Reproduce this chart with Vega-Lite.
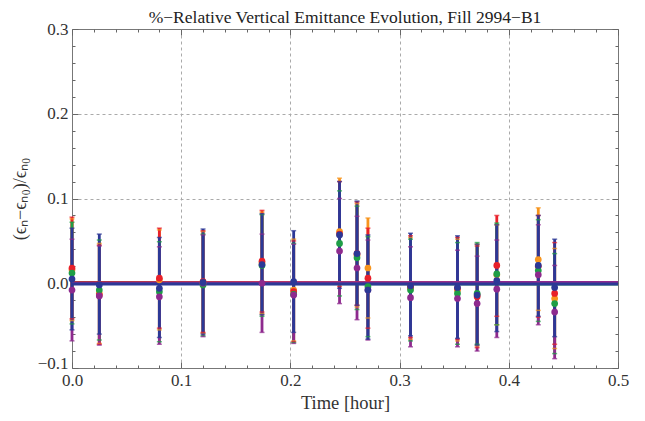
{
  "$schema": "https://vega.github.io/schema/vega-lite/v6.json",
  "autosize": "none",
  "width": 546,
  "height": 339,
  "padding": {"left": 72, "top": 29, "right": 27, "bottom": 53},
  "background": "white",
  "title": {"text": "%−Relative Vertical Emittance Evolution, Fill 2994−B1", "font": "Liberation Serif", "fontSize": 17.5, "fontWeight": "normal", "color": "#222", "anchor": "middle", "offset": -6},
  "config": {
    "view": {"stroke": "#777", "strokeWidth": 1},
    "axis": {"labelFont": "Liberation Serif", "titleFont": "Liberation Serif", "labelColor": "#333", "titleColor": "#333", "domain": false, "tickColor": "#666", "gridDash": [3, 3]}
  },
  "datasets": {
    "pts": [
      {"t": 0.000, "s": "Series 1", "y": 0.016, "lo": -0.044, "hi": 0.076},
      {"t": 0.000, "s": "Series 2", "y": 0.018, "lo": -0.042, "hi": 0.078},
      {"t": 0.000, "s": "Series 3", "y": 0.012, "lo": -0.048, "hi": 0.072},
      {"t": 0.000, "s": "Series 4", "y": -0.008, "lo": -0.068, "hi": 0.052},
      {"t": 0.000, "s": "Series 5", "y": 0.005, "lo": -0.055, "hi": 0.065},
      {"t": 0.025, "s": "Series 1", "y": -0.012, "lo": -0.071, "hi": 0.047},
      {"t": 0.025, "s": "Series 2", "y": -0.014, "lo": -0.072, "hi": 0.045},
      {"t": 0.025, "s": "Series 3", "y": -0.008, "lo": -0.067, "hi": 0.051},
      {"t": 0.025, "s": "Series 4", "y": -0.015, "lo": -0.073, "hi": 0.044},
      {"t": 0.025, "s": "Series 5", "y": -0.002, "lo": -0.060, "hi": 0.058},
      {"t": 0.080, "s": "Series 1", "y": 0.004, "lo": -0.055, "hi": 0.063},
      {"t": 0.080, "s": "Series 2", "y": 0.006, "lo": -0.053, "hi": 0.065},
      {"t": 0.080, "s": "Series 3", "y": -0.010, "lo": -0.069, "hi": 0.049},
      {"t": 0.080, "s": "Series 4", "y": -0.016, "lo": -0.072, "hi": 0.043},
      {"t": 0.080, "s": "Series 5", "y": -0.006, "lo": -0.064, "hi": 0.054},
      {"t": 0.120, "s": "Series 1", "y": 0.001, "lo": -0.059, "hi": 0.061},
      {"t": 0.120, "s": "Series 2", "y": 0.002, "lo": -0.058, "hi": 0.062},
      {"t": 0.120, "s": "Series 3", "y": -0.002, "lo": -0.062, "hi": 0.058},
      {"t": 0.120, "s": "Series 4", "y": 0.000, "lo": -0.063, "hi": 0.057},
      {"t": 0.120, "s": "Series 5", "y": 0.001, "lo": -0.060, "hi": 0.064},
      {"t": 0.174, "s": "Series 1", "y": 0.024, "lo": -0.036, "hi": 0.084},
      {"t": 0.174, "s": "Series 2", "y": 0.026, "lo": -0.034, "hi": 0.086},
      {"t": 0.174, "s": "Series 3", "y": 0.021, "lo": -0.039, "hi": 0.081},
      {"t": 0.174, "s": "Series 4", "y": 0.000, "lo": -0.058, "hi": 0.058},
      {"t": 0.174, "s": "Series 5", "y": 0.022, "lo": -0.037, "hi": 0.082},
      {"t": 0.203, "s": "Series 1", "y": -0.008, "lo": -0.068, "hi": 0.052},
      {"t": 0.203, "s": "Series 2", "y": -0.010, "lo": -0.069, "hi": 0.050},
      {"t": 0.203, "s": "Series 3", "y": -0.013, "lo": -0.070, "hi": 0.047},
      {"t": 0.203, "s": "Series 4", "y": -0.014, "lo": -0.071, "hi": 0.046},
      {"t": 0.203, "s": "Series 5", "y": 0.002, "lo": -0.058, "hi": 0.062},
      {"t": 0.245, "s": "Series 1", "y": 0.061, "lo": -0.002, "hi": 0.124},
      {"t": 0.245, "s": "Series 2", "y": 0.058, "lo": -0.004, "hi": 0.120},
      {"t": 0.245, "s": "Series 3", "y": 0.047, "lo": -0.015, "hi": 0.109},
      {"t": 0.245, "s": "Series 4", "y": 0.038, "lo": -0.024, "hi": 0.100},
      {"t": 0.245, "s": "Series 5", "y": 0.057, "lo": -0.006, "hi": 0.120},
      {"t": 0.261, "s": "Series 1", "y": 0.033, "lo": -0.028, "hi": 0.094},
      {"t": 0.261, "s": "Series 2", "y": 0.035, "lo": -0.026, "hi": 0.096},
      {"t": 0.261, "s": "Series 3", "y": 0.030, "lo": -0.031, "hi": 0.091},
      {"t": 0.261, "s": "Series 4", "y": 0.018, "lo": -0.043, "hi": 0.079},
      {"t": 0.261, "s": "Series 5", "y": 0.035, "lo": -0.026, "hi": 0.097},
      {"t": 0.271, "s": "Series 1", "y": 0.018, "lo": -0.041, "hi": 0.077},
      {"t": 0.271, "s": "Series 2", "y": 0.006, "lo": -0.053, "hi": 0.065},
      {"t": 0.271, "s": "Series 3", "y": -0.004, "lo": -0.063, "hi": 0.055},
      {"t": 0.271, "s": "Series 4", "y": -0.008, "lo": -0.067, "hi": 0.051},
      {"t": 0.271, "s": "Series 5", "y": -0.008, "lo": -0.066, "hi": 0.057},
      {"t": 0.310, "s": "Series 1", "y": -0.006, "lo": -0.066, "hi": 0.054},
      {"t": 0.310, "s": "Series 2", "y": -0.004, "lo": -0.064, "hi": 0.056},
      {"t": 0.310, "s": "Series 3", "y": -0.008, "lo": -0.068, "hi": 0.052},
      {"t": 0.310, "s": "Series 4", "y": -0.017, "lo": -0.075, "hi": 0.043},
      {"t": 0.310, "s": "Series 5", "y": -0.003, "lo": -0.062, "hi": 0.059},
      {"t": 0.353, "s": "Series 1", "y": -0.008, "lo": -0.068, "hi": 0.052},
      {"t": 0.353, "s": "Series 2", "y": -0.006, "lo": -0.066, "hi": 0.054},
      {"t": 0.353, "s": "Series 3", "y": -0.012, "lo": -0.072, "hi": 0.048},
      {"t": 0.353, "s": "Series 4", "y": -0.018, "lo": -0.075, "hi": 0.039},
      {"t": 0.353, "s": "Series 5", "y": -0.005, "lo": -0.065, "hi": 0.056},
      {"t": 0.371, "s": "Series 1", "y": -0.014, "lo": -0.074, "hi": 0.046},
      {"t": 0.371, "s": "Series 2", "y": -0.016, "lo": -0.076, "hi": 0.044},
      {"t": 0.371, "s": "Series 3", "y": -0.012, "lo": -0.072, "hi": 0.048},
      {"t": 0.371, "s": "Series 4", "y": -0.024, "lo": -0.080, "hi": 0.032},
      {"t": 0.371, "s": "Series 5", "y": -0.014, "lo": -0.073, "hi": 0.046},
      {"t": 0.389, "s": "Series 1", "y": 0.010, "lo": -0.049, "hi": 0.069},
      {"t": 0.389, "s": "Series 2", "y": 0.021, "lo": -0.039, "hi": 0.080},
      {"t": 0.389, "s": "Series 3", "y": 0.011, "lo": -0.049, "hi": 0.071},
      {"t": 0.389, "s": "Series 4", "y": -0.007, "lo": -0.064, "hi": 0.051},
      {"t": 0.389, "s": "Series 5", "y": 0.003, "lo": -0.057, "hi": 0.069},
      {"t": 0.427, "s": "Series 1", "y": 0.028, "lo": -0.032, "hi": 0.089},
      {"t": 0.427, "s": "Series 2", "y": 0.020, "lo": -0.040, "hi": 0.080},
      {"t": 0.427, "s": "Series 3", "y": 0.015, "lo": -0.045, "hi": 0.075},
      {"t": 0.427, "s": "Series 4", "y": 0.010, "lo": -0.049, "hi": 0.069},
      {"t": 0.427, "s": "Series 5", "y": 0.021, "lo": -0.039, "hi": 0.080},
      {"t": 0.442, "s": "Series 1", "y": -0.018, "lo": -0.077, "hi": 0.041},
      {"t": 0.442, "s": "Series 2", "y": -0.012, "lo": -0.072, "hi": 0.048},
      {"t": 0.442, "s": "Series 3", "y": -0.024, "lo": -0.083, "hi": 0.035},
      {"t": 0.442, "s": "Series 4", "y": -0.034, "lo": -0.089, "hi": 0.021},
      {"t": 0.442, "s": "Series 5", "y": -0.005, "lo": -0.063, "hi": 0.052}
    ],
    "fits": [
      {"s": "Series 1", "t0": 0, "t1": 0.5, "y0": 0.001, "y1": 0.000},
      {"s": "Series 2", "t0": 0, "t1": 0.5, "y0": 0.001, "y1": 0.000},
      {"s": "Series 3", "t0": 0, "t1": 0.5, "y0": 0.000, "y1": -0.001},
      {"s": "Series 4", "t0": 0, "t1": 0.5, "y0": 0.000, "y1": 0.001},
      {"s": "Series 5", "t0": 0, "t1": 0.5, "y0": -0.001, "y1": -0.001}
    ]
  },
  "resolve": {"axis": {"x": "independent", "y": "independent"}},
  "layer": [
    {
      "data": {"name": "pts"},
      "mark": {"type": "rule", "strokeWidth": 2.8},
      "encoding": {
        "x": {"field": "t", "type": "quantitative", "scale": {"domain": [0, 0.5], "nice": false, "zero": false},
          "axis": {"values": [0,0.02,0.04,0.06,0.08,0.1,0.12,0.14,0.16,0.18,0.2,0.22,0.24,0.26,0.28,0.3,0.32,0.34,0.36,0.38,0.4,0.42,0.44,0.46,0.48,0.5],
            "labelExpr": "abs(datum.value*10 - round(datum.value*10)) < 0.001 ? format(datum.value, '.1f') : ''",
            "grid": true,
            "gridColor": {"condition": {"test": "abs(datum.value*10 - round(datum.value*10)) < 0.001 && datum.value > 0.001 && datum.value < 0.499", "value": "#aaaaaa"}, "value": "transparent"},
            "tickSize": {"condition": {"test": "abs(datum.value*10 - round(datum.value*10)) < 0.001", "value": -6}, "value": -3},
            "labelPadding": 10, "labelFontSize": 17, "labelFlush": false,
            "title": "Time [hour]", "titleFontSize": 18.5, "titleFontWeight": "normal", "titlePadding": 5}},
        "y": {"field": "lo", "type": "quantitative", "scale": {"domain": [-0.1, 0.3], "nice": false, "zero": false},
          "axis": {"values": [-0.1,-0.08,-0.06,-0.04,-0.02,0,0.02,0.04,0.06,0.08,0.1,0.12,0.14,0.16,0.18,0.2,0.22,0.24,0.26,0.28,0.3],
            "labelExpr": "abs(datum.value*10 - round(datum.value*10)) < 0.001 ? format(datum.value, '.1f') : ''",
            "grid": true,
            "gridColor": {"condition": {"test": "abs(datum.value*10 - round(datum.value*10)) < 0.001 && datum.value > -0.099 && datum.value < 0.299", "value": "#aaaaaa"}, "value": "transparent"},
            "tickSize": {"condition": {"test": "abs(datum.value*10 - round(datum.value*10)) < 0.001", "value": -6}, "value": -3},
            "labelOffset": {"condition": {"test": "datum.value < -0.09", "value": -5}, "value": 0},
            "labelPadding": 10, "labelFontSize": 17, "labelFlush": false,
            "title": "(ϵₙ−ϵₙ₀)/ϵₙ₀", "titleFontSize": 18, "titleFontWeight": "normal", "titlePadding": 8}},
        "y2": {"field": "hi"},
        "color": {"field": "s", "type": "nominal", "legend": null,
          "scale": {"domain": ["Series 1", "Series 2", "Series 3", "Series 4", "Series 5"], "range": ["#f7941d", "#e8202a", "#1e9e46", "#8e2a8e", "#2c3896"]}}
      }
    },
    {
      "data": {"name": "pts"},
      "mark": {"type": "tick", "orient": "horizontal", "size": 5, "thickness": 1.5},
      "encoding": {
        "x": {"field": "t", "type": "quantitative", "axis": null},
        "y": {"field": "lo", "type": "quantitative", "axis": null},
        "color": {"field": "s", "type": "nominal", "legend": null}
      }
    },
    {
      "data": {"name": "pts"},
      "mark": {"type": "tick", "orient": "horizontal", "size": 5, "thickness": 1.5},
      "encoding": {
        "x": {"field": "t", "type": "quantitative", "axis": null},
        "y": {"field": "hi", "type": "quantitative", "axis": null},
        "color": {"field": "s", "type": "nominal", "legend": null}
      }
    },
    {
      "data": {"name": "fits"},
      "mark": {"type": "rule", "strokeWidth": 3},
      "encoding": {
        "x": {"field": "t0", "type": "quantitative",
          "axis": {"orient": "top", "values": [0,0.02,0.04,0.06,0.08,0.1,0.12,0.14,0.16,0.18,0.2,0.22,0.24,0.26,0.28,0.3,0.32,0.34,0.36,0.38,0.4,0.42,0.44,0.46,0.48,0.5],
            "labels": false, "title": null, "grid": false,
            "tickSize": {"condition": {"test": "abs(datum.value*10 - round(datum.value*10)) < 0.001", "value": -6}, "value": -3}}},
        "x2": {"field": "t1"},
        "y": {"field": "y0", "type": "quantitative",
          "axis": {"orient": "right", "values": [-0.1,-0.08,-0.06,-0.04,-0.02,0,0.02,0.04,0.06,0.08,0.1,0.12,0.14,0.16,0.18,0.2,0.22,0.24,0.26,0.28,0.3],
            "labels": false, "title": null, "grid": false,
            "tickSize": {"condition": {"test": "abs(datum.value*10 - round(datum.value*10)) < 0.001", "value": -6}, "value": -3}}},
        "y2": {"field": "y1"},
        "color": {"field": "s", "type": "nominal", "legend": null}
      }
    },
    {
      "data": {"name": "pts"},
      "mark": {"type": "circle", "size": 45, "opacity": 1},
      "encoding": {
        "x": {"field": "t", "type": "quantitative", "axis": null},
        "y": {"field": "y", "type": "quantitative", "axis": null},
        "color": {"field": "s", "type": "nominal", "legend": null}
      }
    }
  ]
}
